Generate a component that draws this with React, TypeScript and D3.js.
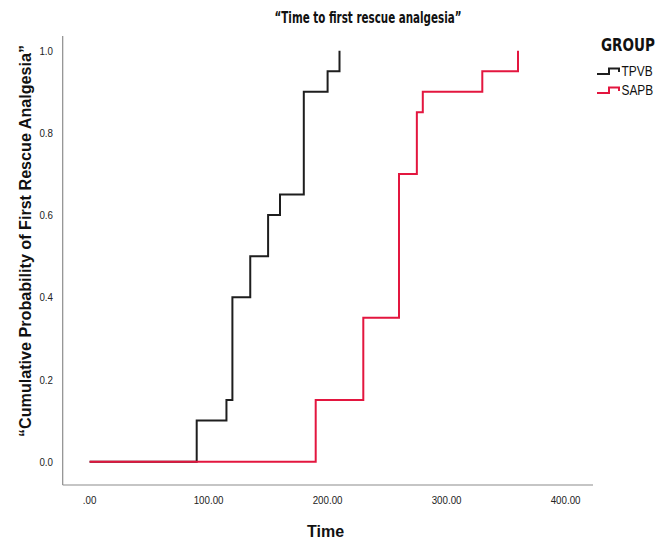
import React from "react";
import * as d3 from "d3";

// cumulative incidence of first rescue analgesia
const tpvbTimes = [0, 90, 115, 120, 135, 150, 160, 180, 200, 210];
const tpvbProb = [0, 0.1, 0.15, 0.4, 0.5, 0.6, 0.65, 0.9, 0.95, 1.0];
const sapbTimes = [0, 190, 230, 260, 275, 280, 330, 360];
const sapbProb = [0, 0.15, 0.35, 0.7, 0.85, 0.9, 0.95, 1.0];

const xTicks = [0, 100, 200, 300, 400];
const yTicks = [0, 0.2, 0.4, 0.6, 0.8, 1.0];
const groups = ["TPVB", "SAPB"];
const colors = ["#1e1e1e", "#e3163f"];

const W = 670,
  H = 541;
const frame = { left: 62.7, right: 593, top: 36, bottom: 485 };
const NARROW = "'Liberation Sans Narrow', 'Arial Narrow', 'DejaVu Sans Condensed', sans-serif";
const SANS = "'Liberation Sans', Arial, sans-serif";

export default function App() {
  const x = d3.scaleLinear().domain([0, 400]).range([89.6, 565.6]);
  const y = d3.scaleLinear().domain([0, 1]).range([461.7, 50.7]);

  const line = d3
    .line<[number, number]>()
    .x(d => x(d[0]))
    .y(d => y(d[1]))
    .curve(d3.curveStepAfter);

  const series = [
    tpvbTimes.map((t, i) => [t, tpvbProb[i]] as [number, number]),
    sapbTimes.map((t, i) => [t, sapbProb[i]] as [number, number])
  ];

  const fmtX = (v: number) => (v === 0 ? ".00" : v.toFixed(2));

  return (
    <svg
      width={W}
      height={H}
      style={{ position: "absolute", left: 0, top: 0, background: "#fff" }}
    >
      <text
        x={368}
        y={23}
        textAnchor="middle"
        fontFamily={NARROW}
        fontWeight="bold"
        fontSize={15}
        textLength={187}
        lengthAdjust="spacingAndGlyphs"
        fill="#111"
      >
        “Time to first rescue analgesia”
      </text>

      {/* axes frame */}
      <line x1={frame.left} x2={frame.left} y1={frame.top} y2={frame.bottom} stroke="#8c8c8c" strokeWidth={1.2} />
      <line x1={frame.left} x2={frame.right} y1={frame.bottom} y2={frame.bottom} stroke="#8c8c8c" strokeWidth={1.2} />

      {yTicks.map(v => (
        <text
          key={v}
          transform={`translate(53,${y(v)}) scale(0.85,1)`}
          dy="0.35em"
          textAnchor="end"
          fontFamily={SANS}
          fontSize={11.5}
          fill="#222"
        >
          {v.toFixed(1)}
        </text>
      ))}

      {xTicks.map(v => (
        <text
          key={v}
          transform={`translate(${x(v)},500) scale(0.85,1)`}
          dy="0.35em"
          textAnchor="middle"
          fontFamily={SANS}
          fontSize={11.5}
          fill="#222"
        >
          {fmtX(v)}
        </text>
      ))}

      <text
        x={x(200) - 2}
        y={531}
        dy="0.35em"
        textAnchor="middle"
        fontFamily={SANS}
        fontWeight="bold"
        fontSize={16}
        fill="#111"
      >
        Time
      </text>

      <text
        transform={`translate(31,241) rotate(-90)`}
        textAnchor="middle"
        fontFamily={SANS}
        fontWeight="bold"
        fontSize={16}
        textLength={392}
        lengthAdjust="spacingAndGlyphs"
        fill="#111"
      >
        “Cumulative Probability of First Rescue Analgesia”
      </text>

      {series.map((s, i) => (
        <path
          key={groups[i]}
          d={line(s) || ""}
          fill="none"
          stroke={colors[i]}
          strokeWidth={2}
        />
      ))}

      {/* legend */}
      <text
        x={628}
        y={45}
        dy="0.35em"
        textAnchor="middle"
        fontFamily={NARROW}
        fontWeight="bold"
        fontSize={17}
        textLength={54}
        lengthAdjust="spacingAndGlyphs"
        fill="#111"
      >
        GROUP
      </text>
      {groups.map((g, i) => {
        const cy = 74 + i * 19;
        return (
          <g key={g}>
            <path
              d={`M597,${cy} H609 V${cy - 5.5} H619 V${cy - 2}`}
              fill="none"
              stroke={colors[i]}
              strokeWidth={2}
            />
            <text
              transform={`translate(621.5,${cy - 2.5}) scale(0.85,1)`}
              dy="0.35em"
              fontFamily={SANS}
              fontSize={14}
              fill="#111"
            >
              {g}
            </text>
          </g>
        );
      })}
    </svg>
  );
}
